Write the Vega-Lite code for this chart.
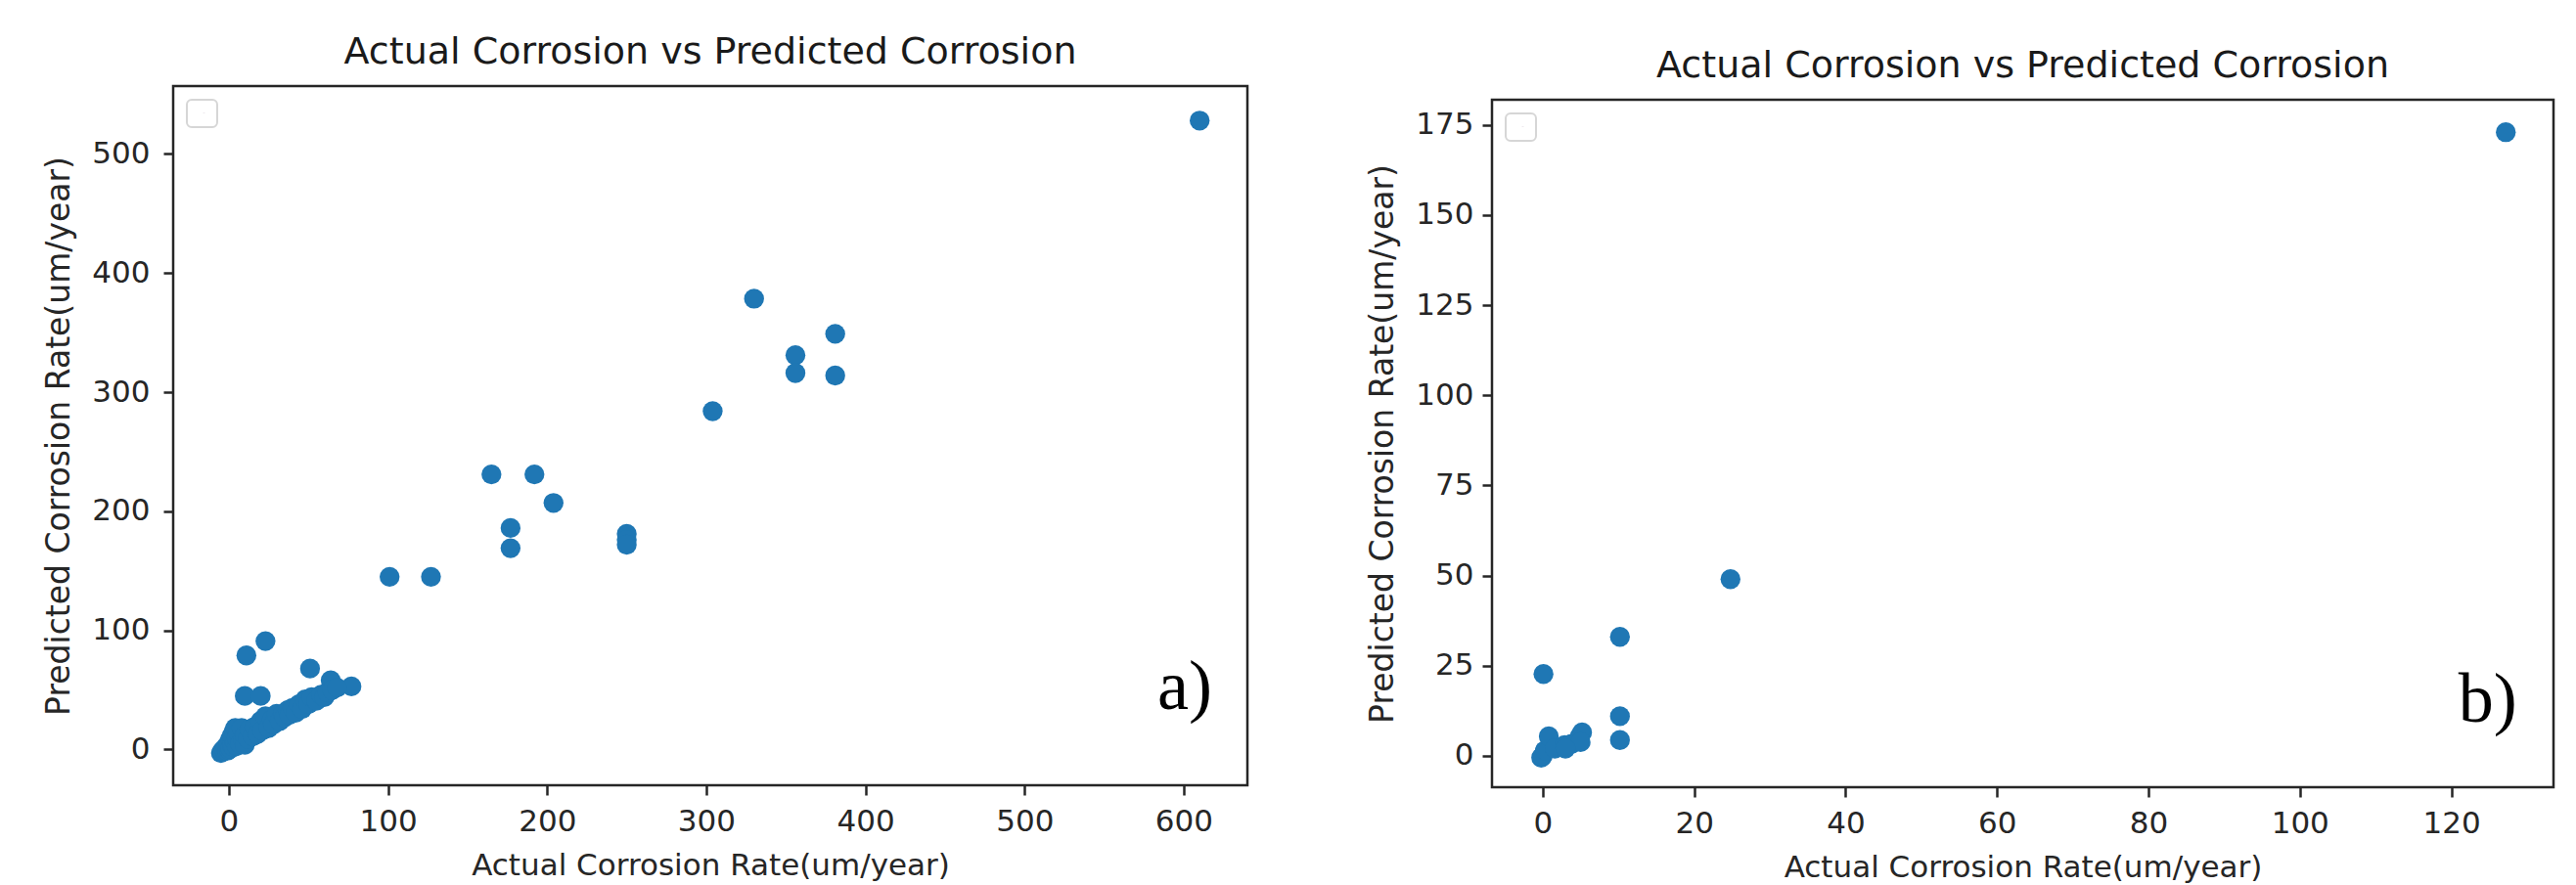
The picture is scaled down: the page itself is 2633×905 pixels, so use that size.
{
  "$schema": "https://vega.github.io/schema/vega-lite/v6.json",
  "background": "white",
  "padding": {"left": 43, "top": 31, "right": 0, "bottom": 0},
  "spacing": 119,
  "config": {
    "font": "DejaVu Sans",
    "view": {"stroke": "#262626", "strokeWidth": 2.5},
    "axis": {
      "domain": false, "grid": false, "ticks": true,
      "tickColor": "#262626", "tickWidth": 2.5, "tickSize": 10,
      "labelFont": "DejaVu Sans", "labelFontSize": 31, "labelColor": "#262626",
      "titleFont": "DejaVu Sans", "titleFontSize": 31, "titleFontWeight": "normal", "titleColor": "#262626"
    },
    "axisY": {"titleFontSize": 33},
    "title": {"font": "DejaVu Sans", "fontSize": 38, "fontWeight": "normal", "color": "#1a1a1a", "anchor": "middle", "baseline": "alphabetic", "offset": 15},
    "legend": {
      "title": null, "orient": "top-left", "offset": 14, "padding": 12,
      "strokeColor": "#d6d6d6", "strokeWidth": 2, "cornerRadius": 5,
      "symbolOpacity": 0, "symbolStrokeWidth": 0, "symbolSize": 16,
      "labelExpr": "''", "labelFontSize": 1, "labelOffset": 0
    }
  },
  "datasets": {
    "a": [
      {"actual": 610, "predicted": 528},
      {"actual": 330, "predicted": 378.5},
      {"actual": 381, "predicted": 349},
      {"actual": 381, "predicted": 314},
      {"actual": 356, "predicted": 331},
      {"actual": 356, "predicted": 316},
      {"actual": 304, "predicted": 284},
      {"actual": 165, "predicted": 231},
      {"actual": 192, "predicted": 231},
      {"actual": 204, "predicted": 207},
      {"actual": 177, "predicted": 186},
      {"actual": 177, "predicted": 169},
      {"actual": 250, "predicted": 181},
      {"actual": 250, "predicted": 176},
      {"actual": 250, "predicted": 172},
      {"actual": 101, "predicted": 145},
      {"actual": 127, "predicted": 145},
      {"actual": 11, "predicted": 79},
      {"actual": 23, "predicted": 91},
      {"actual": 51, "predicted": 68},
      {"actual": 77, "predicted": 53},
      {"actual": 64, "predicted": 58},
      {"actual": 10, "predicted": 45},
      {"actual": 20, "predicted": 45},
      {"actual": -5, "predicted": -3},
      {"actual": -4, "predicted": -1},
      {"actual": -3, "predicted": 0},
      {"actual": -2, "predicted": 2},
      {"actual": -1, "predicted": -1},
      {"actual": 0, "predicted": 0},
      {"actual": 0, "predicted": 3},
      {"actual": 0, "predicted": 6},
      {"actual": 1, "predicted": 1},
      {"actual": 1, "predicted": 9},
      {"actual": 2, "predicted": 4},
      {"actual": 2, "predicted": 12},
      {"actual": 3, "predicted": 2},
      {"actual": 3, "predicted": 15},
      {"actual": 4, "predicted": 6},
      {"actual": 4, "predicted": 18},
      {"actual": 5, "predicted": 3},
      {"actual": 5, "predicted": 10},
      {"actual": 6, "predicted": 14},
      {"actual": 7, "predicted": 5},
      {"actual": 8, "predicted": 18},
      {"actual": 9, "predicted": 8},
      {"actual": 10, "predicted": 4},
      {"actual": 10, "predicted": 12},
      {"actual": 12, "predicted": 9},
      {"actual": 13, "predicted": 17},
      {"actual": 15, "predicted": 11},
      {"actual": 16, "predicted": 19},
      {"actual": 18, "predicted": 13},
      {"actual": 20, "predicted": 24},
      {"actual": 21, "predicted": 16},
      {"actual": 23, "predicted": 28},
      {"actual": 25, "predicted": 18},
      {"actual": 27, "predicted": 25},
      {"actual": 28, "predicted": 21},
      {"actual": 30, "predicted": 30},
      {"actual": 32, "predicted": 24},
      {"actual": 34, "predicted": 30},
      {"actual": 35, "predicted": 27},
      {"actual": 37, "predicted": 33},
      {"actual": 38, "predicted": 29},
      {"actual": 40, "predicted": 35},
      {"actual": 42, "predicted": 31},
      {"actual": 44, "predicted": 38},
      {"actual": 46, "predicted": 34},
      {"actual": 48, "predicted": 42},
      {"actual": 50, "predicted": 38},
      {"actual": 52, "predicted": 44},
      {"actual": 55, "predicted": 41},
      {"actual": 58, "predicted": 46},
      {"actual": 60, "predicted": 44},
      {"actual": 62, "predicted": 48},
      {"actual": 65, "predicted": 50},
      {"actual": 68, "predicted": 52}
    ],
    "b": [
      {"actual": 127.2, "predicted": 173},
      {"actual": 24.8, "predicted": 49},
      {"actual": 10.2, "predicted": 33},
      {"actual": 10.2, "predicted": 11},
      {"actual": 10.2, "predicted": 4.4},
      {"actual": 0.1, "predicted": 22.7},
      {"actual": 0, "predicted": 0},
      {"actual": -0.2, "predicted": -0.5},
      {"actual": 0.3, "predicted": 1.5},
      {"actual": 0.8, "predicted": 5.4},
      {"actual": 1.6, "predicted": 2},
      {"actual": 2.9, "predicted": 3},
      {"actual": 3.8, "predicted": 3.3},
      {"actual": 4.9, "predicted": 5.4},
      {"actual": 5.2, "predicted": 6.5},
      {"actual": 5, "predicted": 3.8},
      {"actual": 3, "predicted": 2}
    ],
    "labels": [
      {"panel": "a", "label": "a)", "actual": 600.7, "predicted": 34},
      {"panel": "b", "label": "b)", "actual": 124.8, "predicted": 9.5}
    ],
    "empty": []
  },
  "hconcat": [
    {
      "spacing": 1,
      "vconcat": [
        {
          "width": 1098,
          "height": 1,
          "view": {"stroke": null},
          "data": {"name": "empty"},
          "mark": "point"
        },
        {
          "width": 1098,
          "height": 715,
          "title": {"text": "Actual Corrosion vs Predicted Corrosion"},
          "encoding": {
            "x": {"field": "actual", "type": "quantitative",
              "scale": {"domain": [-35, 640], "nice": false, "zero": false},
              "axis": {"values": [0, 100, 200, 300, 400, 500, 600], "title": "Actual Corrosion Rate(um/year)", "labelPadding": 12, "titlePadding": 15}},
            "y": {"field": "predicted", "type": "quantitative",
              "scale": {"domain": [-30, 557], "nice": false, "zero": false},
              "axis": {"values": [0, 100, 200, 300, 400, 500], "title": "Predicted Corrosion Rate(um/year)", "labelPadding": 14, "titlePadding": 16}}
          },
          "layer": [
            {
              "data": {"name": "a"},
              "mark": {"type": "circle", "size": 415, "opacity": 1},
              "encoding": {
                "color": {"datum": "series", "type": "nominal", "scale": {"range": ["#1f77b4"]}}
              }
            },
            {
              "data": {"name": "labels"},
              "transform": [{"filter": "datum.panel == 'a'"}],
              "mark": {"type": "text", "font": "Liberation Serif", "fontSize": 72, "align": "center", "baseline": "alphabetic", "color": "black"},
              "encoding": {"text": {"field": "label"}}
            }
          ]
        }
      ],
      "resolve": {"scale": {"color": "independent"}, "legend": {"color": "independent"}}
    },
    {
      "spacing": 15,
      "vconcat": [
        {
          "width": 1085,
          "height": 1,
          "view": {"stroke": null},
          "data": {"name": "empty"},
          "mark": "point"
        },
        {
          "width": 1085,
          "height": 703,
          "title": {"text": "Actual Corrosion vs Predicted Corrosion"},
          "encoding": {
            "x": {"field": "actual", "type": "quantitative",
              "scale": {"domain": [-6.7, 133.5], "nice": false, "zero": false},
              "axis": {"values": [0, 20, 40, 60, 80, 100, 120], "title": "Actual Corrosion Rate(um/year)", "labelPadding": 12, "titlePadding": 15}},
            "y": {"field": "predicted", "type": "quantitative",
              "scale": {"domain": [-8.7, 182], "nice": false, "zero": false},
              "axis": {"values": [0, 25, 50, 75, 100, 125, 150, 175], "title": "Predicted Corrosion Rate(um/year)", "labelPadding": 9, "titlePadding": 16}}
          },
          "layer": [
            {
              "data": {"name": "b"},
              "mark": {"type": "circle", "size": 415, "opacity": 1},
              "encoding": {
                "color": {"datum": "series", "type": "nominal", "scale": {"range": ["#1f77b4"]}}
              }
            },
            {
              "data": {"name": "labels"},
              "transform": [{"filter": "datum.panel == 'b'"}],
              "mark": {"type": "text", "font": "Liberation Serif", "fontSize": 72, "align": "center", "baseline": "alphabetic", "color": "black"},
              "encoding": {"text": {"field": "label"}}
            }
          ]
        }
      ],
      "resolve": {"scale": {"color": "independent"}, "legend": {"color": "independent"}}
    }
  ],
  "resolve": {"scale": {"color": "independent"}, "legend": {"color": "independent"}}
}
